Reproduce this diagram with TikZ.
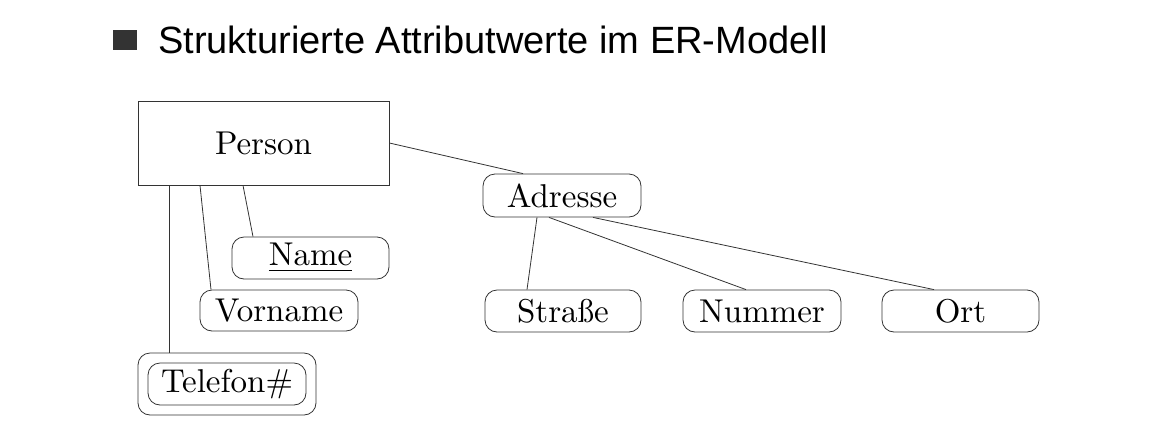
\documentclass[tikz,border=0pt]{standalone}
\usepackage{fontspec}
\usepackage{graphicx}
\newfontfamily\titlefont{Liberation Sans}
\newcommand{\ertext}[1]{\scalebox{3.3}{#1}}
\begin{document}
\begin{tikzpicture}[x=1pt,y=-1pt,
  entity/.style={draw=black!80, line width=0.8pt, rectangle, inner sep=0pt,
    minimum width=251pt, minimum height=84pt},
  attr/.style={draw=black!80, line width=0.8pt, rectangle, rounded corners=12pt,
    inner sep=0pt, minimum width=158pt, minimum height=42pt},
  conn/.style={draw=black!80, line width=0.8pt},
  bullet/.style={fill=black!80, draw=none, inner sep=0pt, minimum width=24pt, minimum height=20pt}
]
\useasboundingbox (0,0) rectangle (1159,429);
% title
\node[bullet] (bul) at (125,40) {};
\node[anchor=base west, inner sep=0pt, font=\titlefont\fontsize{38}{44}\selectfont] (title) at (158,53) {Strukturierte Attributwerte im ER-Modell};
% nodes
\node[entity] (person) at (263.5,143) {\ertext{Person}};
\node[attr, minimum width=157pt] (name) at (310.5,258) {\ertext{\underline{Name}}};
\node[attr, minimum height=41pt] (vorname) at (279,310.5) {\ertext{Vorname}};
\node[attr] (tel) at (227,384) {\ertext{Telefon\#}};
\node[attr, minimum width=178pt, minimum height=62pt] (telouter) at (227,384) {};
\node[attr, minimum height=43pt] (adresse) at (562,195.5) {\ertext{Adresse}};
\node[attr, minimum width=156pt] (strasse) at (563,311) {\ertext{Straße}};
\node[attr] (nummer) at (762,311) {\ertext{Nummer}};
\node[attr, minimum width=157pt] (ort) at (960.5,311) {\ertext{Ort}};
% connectors
\draw[conn] ([xshift=-20.5pt]person.south) -- ([xshift=-57.5pt]name.north);
\draw[conn] ([xshift=-63.5pt]person.south) -- ([xshift=-68pt]vorname.north);
\draw[conn] ([xshift=-94.5pt]person.south) -- ([xshift=-58pt]telouter.north);
\draw[conn] (person.east) -- ([xshift=-39pt]adresse.north);
\draw[conn] ([xshift=-25pt]adresse.south) -- ([xshift=-36pt]strasse.north);
\draw[conn] ([xshift=-13pt]adresse.south) -- ([xshift=-16pt]nummer.north);
\draw[conn] ([xshift=31pt]adresse.south) -- ([xshift=-26.5pt]ort.north);
\end{tikzpicture}
\end{document}
